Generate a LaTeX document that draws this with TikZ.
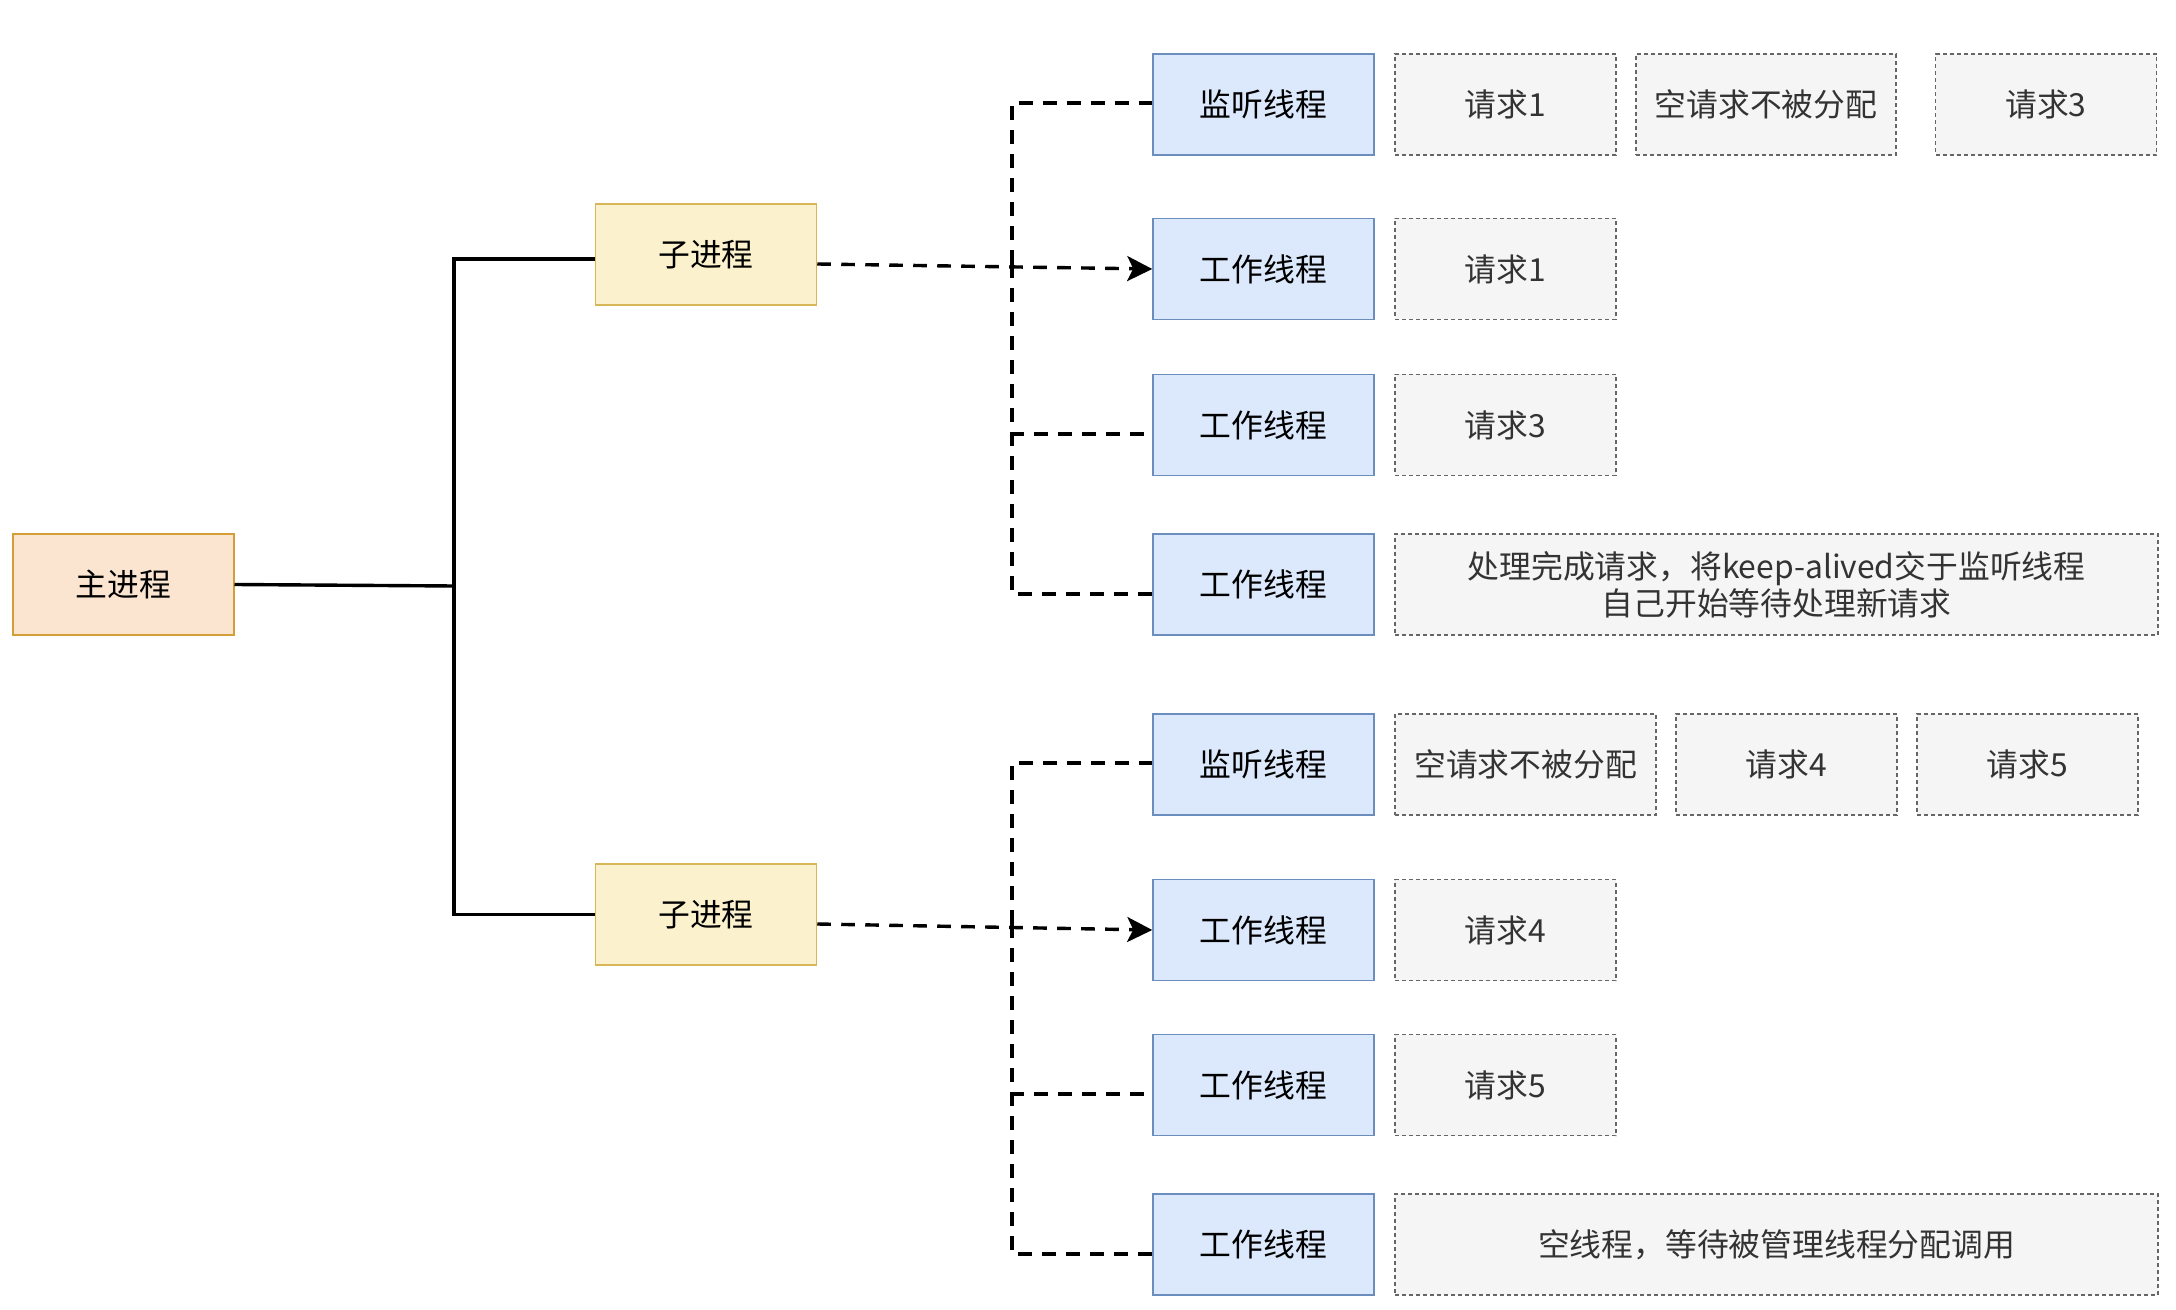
\documentclass[tikz,border=0pt]{standalone}
\usepackage{fontspec}
\setmainfont{Noto Sans CJK SC}
\usetikzlibrary{arrows.meta,calc}
\definecolor{mainfill}{HTML}{FBE5D0}
\definecolor{mainline}{HTML}{D39E36}
\definecolor{subfill}{HTML}{FCF1CD}
\definecolor{subline}{HTML}{D6B656}
\definecolor{thfill}{HTML}{DCE8FB}
\definecolor{thline}{HTML}{6C8EBF}
\definecolor{rqfill}{HTML}{F5F5F5}
\definecolor{rqline}{HTML}{666666}
\definecolor{rqtext}{HTML}{333333}
\tikzset{
  basebox/.style={draw, line width=0.75pt, inner sep=0pt, align=center,
    minimum width=110.5pt, minimum height=50.5pt,
    font=\fontsize{15.9}{18.5}\selectfont},
  mainbox/.style={basebox, fill=mainfill, draw=mainline},
  subbox/.style={basebox, fill=subfill, draw=subline},
  thbox/.style={basebox, fill=thfill, draw=thline},
  rqbox/.style={basebox, fill=rqfill, draw=rqline, text=rqtext, dash pattern=on 2pt off 1.5pt},
  solidconn/.style={draw=black, line width=1.7pt},
  dconn/.style={draw=black, line width=1.7pt, dash pattern=on 6.85pt off 5.15pt},
}
\begin{document}
\begin{tikzpicture}[x=0.5pt,y=-0.5pt]
\useasboundingbox (0,0) rectangle (2176,1310);

% process nodes
\node[mainbox] (main) at (123.25,584.5) {主进程};
\node[subbox] (c1) at (706,254.5) {子进程};
\node[subbox] (c2) at (706,914.5) {子进程};

% thread nodes
\node[thbox] (t1) at (1263.5,104.5) {监听线程};
\node[thbox] (t2) at (1263.5,269) {工作线程};
\node[thbox] (t3) at (1263.5,425) {工作线程};
\node[thbox] (t4) at (1263.5,584.5) {工作线程};
\node[thbox] (t5) at (1263.5,764.5) {监听线程};
\node[thbox] (t6) at (1263.5,930) {工作线程};
\node[thbox] (t7) at (1263.5,1085) {工作线程};
\node[thbox] (t8) at (1263.5,1244.5) {工作线程};

% request nodes
\node[rqbox] (r11) at (1505.5,104.5) {请求1};
\node[rqbox, minimum width=130pt] (r12) at (1766,104.5) {空请求不被分配};
\node[rqbox] (r13) at (2046,104.5) {请求3};
\node[rqbox] (r2) at (1505.5,269) {请求1};
\node[rqbox] (r3) at (1505.5,425) {请求3};
\node[rqbox, minimum width=381.5pt] (r4) at (1776.5,584.5) {处理完成请求，将keep-alived交于监听线程\\自己开始等待处理新请求};
\node[rqbox, minimum width=130.5pt] (r51) at (1525.5,764.5) {空请求不被分配};
\node[rqbox] (r52) at (1786.5,764.5) {请求4};
\node[rqbox] (r53) at (2027.5,764.5) {请求5};
\node[rqbox] (r6) at (1505.5,930) {请求4};
\node[rqbox] (r7) at (1505.5,1085) {请求5};
\node[rqbox, minimum width=381.5pt] (r8) at (1776.5,1244.5) {空线程，等待被管理线程分配调用};

% main -> children
\coordinate (tk) at (454,586);
\draw[solidconn] (main.east) -- (tk);
\draw[solidconn] (tk) |- ($(c1.west)+(0,4.5)$);
\draw[solidconn] (tk) |- (c2.west);

% child 1 -> threads
\coordinate (j1) at (1012,264);
\draw[dconn, -{Stealth[length=12.5pt,width=12.5pt,inset=3pt]}] ($(c1.east)+(0,9.5)$) -- (t2.west);
\draw[dconn] (j1) |- ($(t1.west)+(0,-1.5)$);
\draw[dconn] (j1) |- ($(t3.west)+(0,9)$);
\draw[dconn] (j1) |- ($(t4.west)+(0,9.5)$);

% child 2 -> threads
\coordinate (j2) at (1012,924);
\draw[dconn, -{Stealth[length=12.5pt,width=12.5pt,inset=3pt]}] ($(c2.east)+(0,9.5)$) -- (t6.west);
\draw[dconn] (j2) |- ($(t5.west)+(0,-1.5)$);
\draw[dconn] (j2) |- ($(t7.west)+(0,9)$);
\draw[dconn] (j2) |- ($(t8.west)+(0,9.5)$);
\end{tikzpicture}
\end{document}
